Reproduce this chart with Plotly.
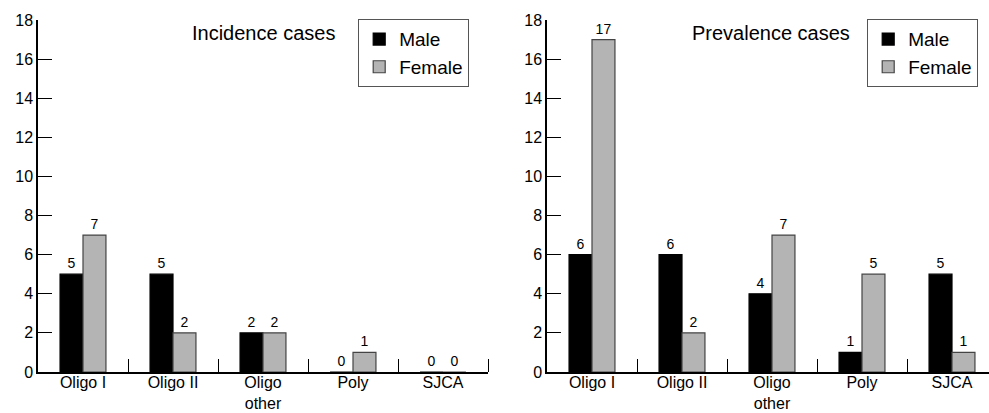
import plotly.graph_objects as go

categories = ["Oligo I", "Oligo II", "Oligo<br>other", "Poly", "SJCA"]
incidence_male = [5, 5, 2, 0, 0]
incidence_female = [7, 2, 2, 1, 0]
prevalence_male = [6, 6, 4, 1, 5]
prevalence_female = [17, 2, 7, 5, 1]
y_ticks = [0, 2, 4, 6, 8, 10, 12, 14, 16, 18]

W, H = 989, 413
FONT = "Liberation Sans, Arial, Helvetica, sans-serif"
xpos = list(range(len(categories)))
boundaries = [i + 0.5 for i in xpos]

male_color = "#000000"
female_color = "#b4b4b4"

fig = go.Figure()

def add_bars(male, female, xa, ya, legend):
    fig.add_trace(go.Bar(
        x=xpos, y=male, name="Male", xaxis=xa, yaxis=ya,
        marker=dict(color=male_color, line=dict(color="#000000", width=1.2)),
        texttemplate="%{y}", textposition="outside", cliponaxis=False,
        textfont=dict(size=14, color="#000", family=FONT), legend=legend,
        offsetgroup="m",
    ))
    fig.add_trace(go.Bar(
        x=xpos, y=female, name="Female", xaxis=xa, yaxis=ya,
        marker=dict(color=female_color, line=dict(color="#444444", width=1.2)),
        texttemplate="%{y}", textposition="outside", cliponaxis=False,
        textfont=dict(size=14, color="#000", family=FONT), legend=legend,
        offsetgroup="f",
    ))

add_bars(incidence_male, incidence_female, "x", "y", "legend")
add_bars(prevalence_male, prevalence_female, "x2", "y2", "legend2")

ydom = [41 / H, 393 / H]
xaxis_common = dict(
    tickmode="array", tickvals=xpos, ticktext=categories, ticks="",
    ticklabelstandoff=-5,
    showline=True, linecolor="#000", linewidth=1.5, showgrid=False, zeroline=False,
    tickfont=dict(size=16, color="#000", family=FONT),
    minor=dict(tickmode="array", tickvals=boundaries, ticks="inside", ticklen=13,
               tickcolor="#000", tickwidth=1.2, showgrid=False),
    fixedrange=True,
)
yaxis_common = dict(
    range=[0, 18], tickmode="array", tickvals=y_ticks, ticks="inside", ticklen=14,
    tickcolor="#000", tickwidth=1.2, showline=True, linecolor="#000", linewidth=1.5,
    showgrid=False, zeroline=False, tickfont=dict(size=16, color="#000", family=FONT),
    domain=ydom, fixedrange=True,
)

legend_common = dict(
    xanchor="left", yanchor="top", y=1 - 19 / H,
    bordercolor="#555", borderwidth=1.2, bgcolor="white",
    font=dict(size=19, family=FONT, color="#000"), traceorder="normal",
    tracegroupgap=0, itemclick=False, itemdoubleclick=False,
)

fig.update_layout(
    width=W, height=H,
    margin=dict(l=0, r=0, t=0, b=0, autoexpand=False),
    paper_bgcolor="white", plot_bgcolor="white",
    font=dict(family=FONT, color="#000"),
    barmode="group", bargap=0.49, bargroupgap=0,
    xaxis=dict(domain=[38 / W, 488 / W], range=[-0.5, 4.5], anchor="y", **xaxis_common),
    yaxis=dict(anchor="x", **yaxis_common),
    xaxis2=dict(domain=[547 / W, 1.0], range=[-0.5, -0.5 + (W - 547) / 90], anchor="y2", **xaxis_common),
    yaxis2=dict(anchor="x2", **yaxis_common),
    legend=dict(x=358 / W, **legend_common),
    legend2=dict(x=867 / W, **legend_common),
    annotations=[
        dict(text="Incidence cases", xref="paper", yref="paper", x=337 / W, y=1 - 33 / H,
             xanchor="right", yanchor="middle", showarrow=False,
             font=dict(size=20, family=FONT, color="#000")),
        dict(text="Prevalence cases", xref="paper", yref="paper", x=852 / W, y=1 - 33 / H,
             xanchor="right", yanchor="middle", showarrow=False,
             font=dict(size=20, family=FONT, color="#000")),
    ],
)

fig.write_html(
    "out.html",
    config={"displayModeBar": False, "staticPlot": False},
    post_script="document.body.style.margin='0px';document.body.style.overflow='hidden';",
)
